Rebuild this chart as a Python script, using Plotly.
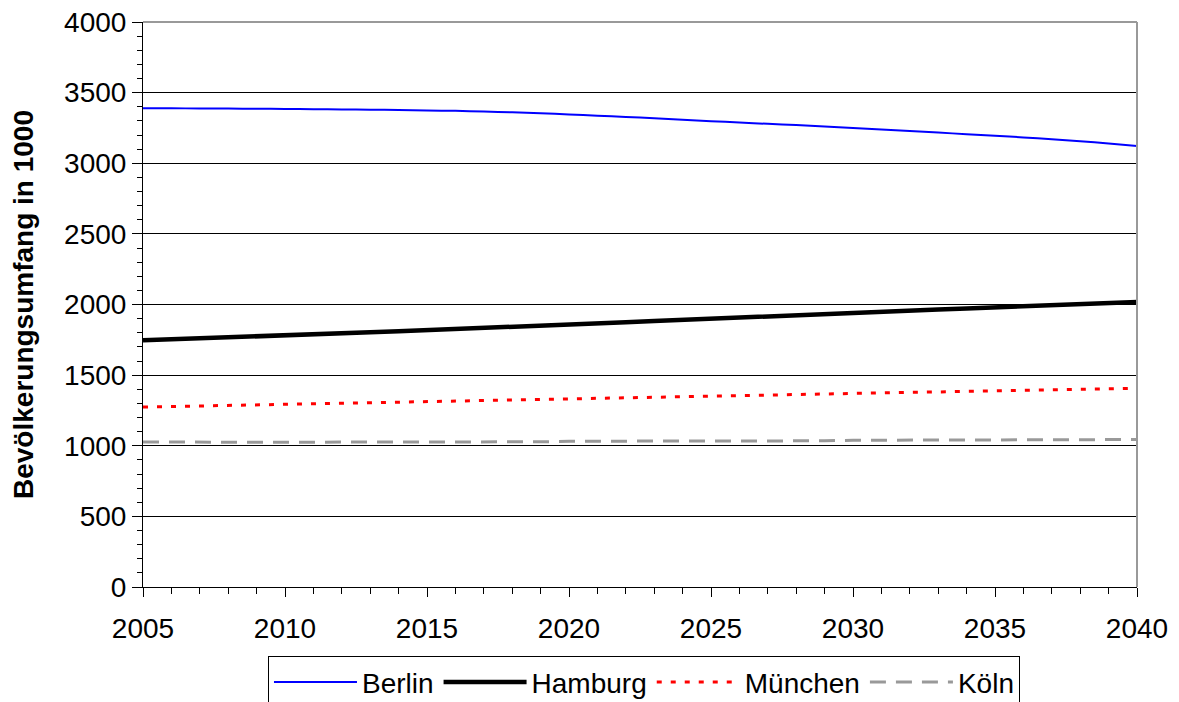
import plotly.graph_objects as go

years = list(range(2005, 2041))

berlin = [3390, 3389, 3388, 3387, 3386, 3384, 3383, 3381, 3379, 3377,
          3374, 3371, 3366, 3361, 3354, 3346, 3337, 3328, 3318, 3308,
          3298, 3289, 3279, 3270, 3260, 3250, 3239, 3228, 3217, 3206,
          3195, 3183, 3170, 3156, 3140, 3122]
hamburg = [1747, 1753, 1760, 1767, 1774, 1781, 1789, 1796, 1803, 1811,
           1818, 1826, 1833, 1841, 1849, 1857, 1865, 1874, 1883, 1892,
           1900, 1909, 1917, 1926, 1934, 1942, 1950, 1958, 1965, 1972,
           1979, 1986, 1993, 2000, 2009, 2018]
muenchen = [1274, 1278, 1282, 1286, 1290, 1294, 1298, 1302, 1306, 1310,
            1314, 1318, 1322, 1326, 1330, 1334, 1338, 1342, 1346, 1349,
            1353, 1357, 1360, 1364, 1367, 1371, 1374, 1378, 1381, 1385,
            1389, 1392, 1396, 1399, 1403, 1407]
koeln = [1026, 1025, 1025, 1025, 1025, 1025, 1025, 1026, 1026, 1026,
         1026, 1027, 1027, 1027, 1028, 1032, 1032, 1033, 1033, 1033,
         1033, 1034, 1034, 1034, 1035, 1039, 1040, 1040, 1040, 1041,
         1041, 1042, 1042, 1043, 1043, 1044]

series_names = ["Berlin", "Hamburg", "München", "Köln"]
y_title = "Bevölkerungsumfang in 1000"

FONT = "Liberation Sans, Arial, sans-serif"

fig = go.Figure()
fig.add_trace(go.Scatter(x=years, y=berlin, name=series_names[0], mode="lines",
                         line=dict(color="#0000FF", width=2, shape="spline", smoothing=0.6)))
fig.add_trace(go.Scatter(x=years, y=hamburg, name=series_names[1], mode="lines",
                         line=dict(color="#000000", width=4.5)))
fig.add_trace(go.Scatter(x=years, y=muenchen, name=series_names[2], mode="lines",
                         line=dict(color="#FF0000", width=3, dash="5px,9px")))
fig.add_trace(go.Scatter(x=years, y=koeln, name=series_names[3], mode="lines",
                         line=dict(color="#999999", width=3, dash="16px,10px")))

# gray top/right frame
fig.add_shape(type="line", xref="paper", yref="paper", x0=0, x1=1, y0=1, y1=1,
              line=dict(color="#999999", width=2))
fig.add_shape(type="line", xref="paper", yref="paper", x0=1, x1=1, y0=0, y1=1,
              line=dict(color="#999999", width=2))

fig.update_layout(
    width=1179, height=702,
    margin=dict(l=143, r=42, t=22, b=115),
    paper_bgcolor="white", plot_bgcolor="white",
    font=dict(family=FONT, color="black", size=28),
    showlegend=True,
    legend=dict(orientation="h", x=0.504, xanchor="center",
                yref="container", y=0.065, yanchor="top",
                bgcolor="white", bordercolor="black", borderwidth=1,
                font=dict(size=28, family=FONT),
                itemwidth=83, tracegroupgap=0),
    xaxis=dict(range=[2005, 2040], tickmode="linear", tick0=2005, dtick=5,
               showgrid=False, zeroline=False, showline=True, linecolor="black", linewidth=1,
               ticks="outside", ticklen=9, tickcolor="black", automargin=False,
               ticklabelstandoff=7,
               minor=dict(dtick=1, ticks="outside", ticklen=6, tickcolor="black", showgrid=False),
               tickfont=dict(size=28, family=FONT)),
    yaxis=dict(range=[0, 4000], tickmode="linear", tick0=0, dtick=500,
               showgrid=True, gridcolor="black", gridwidth=1, zeroline=False,
               showline=True, linecolor="black", linewidth=1,
               ticks="outside", ticklen=10, tickcolor="black", automargin=False,
               minor=dict(dtick=100, ticks="outside", ticklen=5, tickcolor="black", showgrid=False),
               tickfont=dict(size=28, family=FONT),
               title=dict(text="<b>" + y_title + "</b>", font=dict(size=28, family=FONT), standoff=22)),
)

fig.write_html("out.html", config={"displayModeBar": False},
               post_script="document.body.style.margin='0';")
